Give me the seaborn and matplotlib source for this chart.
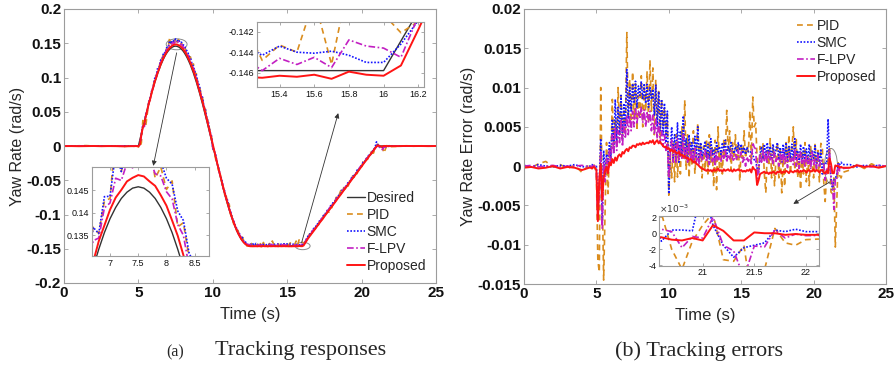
import numpy as np
import matplotlib
matplotlib.use("Agg")
import matplotlib.pyplot as plt
from matplotlib.patches import Ellipse
from matplotlib.lines import Line2D
import seaborn as sns

# ---------------- time grid (s) ----------------
time_pre = [0.0, 0.5, 1.0, 1.5, 2.0, 2.5, 3.0, 3.5, 4.0, 4.5]
time_fine = np.round(np.arange(4.6, 22.05, 0.1), 1)          # 4.6 ... 22.0 (175 samples)
time_post = [22.5, 23.0, 23.5, 24.0, 24.5, 25.0]

# ---------------- desired yaw rate (rad/s) ----------------
desired_pre = [0.0] * 10
desired_rise_fall = [0.0, 0.0, 0.0, 0.0,
    0.0, 0.0092, 0.0183, 0.0273, 0.0363, 0.0451, 0.0537, 0.0621, 0.0702, 0.0781,
    0.0857, 0.0929, 0.0998, 0.1063, 0.1123, 0.1180, 0.1231, 0.1278, 0.1319, 0.1356,
    0.1387, 0.1412, 0.1432, 0.1446, 0.1455, 0.1458, 0.1455, 0.1446, 0.1432, 0.1412,
    0.1387, 0.1356, 0.1319, 0.1278, 0.1231, 0.1180, 0.1123, 0.1063, 0.0998, 0.0929,
    0.0857, 0.0781, 0.0702, 0.0621, 0.0537, 0.0451, 0.0363, 0.0273, 0.0183, 0.0092,
    0.0, -0.0092, -0.0183, -0.0273, -0.0363, -0.0451, -0.0537, -0.0621, -0.0702, -0.0781,
    -0.0857, -0.0929, -0.0998, -0.1063, -0.1123, -0.1180, -0.1231, -0.1278, -0.1319, -0.1356,
    -0.1387, -0.1412, -0.1432, -0.1446, -0.1455, -0.1458]
desired_flat = [-0.1458] * 34
desired_ramp = [-0.1458, -0.1429, -0.1400, -0.1371, -0.1341, -0.1312, -0.1283, -0.1254, -0.1225, -0.1196,
    -0.1166, -0.1137, -0.1108, -0.1079, -0.1050, -0.1021, -0.0991, -0.0962, -0.0933, -0.0904,
    -0.0875, -0.0846, -0.0816, -0.0787, -0.0758, -0.0729, -0.0700, -0.0671, -0.0641, -0.0612,
    -0.0583, -0.0554, -0.0525, -0.0496, -0.0466, -0.0437, -0.0408, -0.0379, -0.0350, -0.0321,
    -0.0292, -0.0262, -0.0233, -0.0204, -0.0175, -0.0146, -0.0117, -0.0087, -0.0058, -0.0029, 0.0]
desired_end = [0.0] * 10
desired_post = [0.0] * 6

# ---------------- tracking errors (x1e-3 rad/s) ----------------
err_pid_pre = [0.1, -0.2, 0.3, 0.6, -0.1, 0.2, -0.3, 0.1, -0.8, 0.2]
err_pid_fine = [
    0.2, -0.3, 0.4, -0.2, -1.0, -12.0, -13.5, 10.0, -3.0, -14.5,
    -6.0, 3.0, -3.5, 2.0, 0.5, 8.5, 2.5, 6.0, 3.0, 10.0,
    4.0, 9.0, 3.5, 7.0, 4.5, 17.0, 6.0, 11.0, 5.0, 12.0,
    6.0, 10.5, 4.5, 9.0, 6.5, 11.5, 5.0, 10.0, 7.0, 12.0,
    5.5, 13.5, 7.0, 12.5, 4.0, 11.0, 6.0, 9.5, 3.5, 8.5,
    5.0, 7.5, 4.0, 6.5, -3.7, 1.0, -1.5, 3.0, -2.0, 4.0,
    -1.4, 2.5, -1.0, 5.0, 1.0, 8.4, -0.5, 4.0, -1.5, 3.0,
    0.0, 4.5, -1.0, 2.0, 5.5, 0.5, 3.0, -1.5, 2.5, -0.5,
    3.5, -1.0, 4.0, 0.5, 2.5, -2.6, 3.3, -3.0, 5.0, -0.5,
    2.0, -1.0, 3.5, 1.0, 7.1, 2.0, 4.5, -0.5, 3.0, 1.0,
    4.0, 0.5, 3.0, -1.9, 2.5, 1.0, 4.5, 1.0, 2.5, 1.8,
    7.0, 0.6, 8.8, 5.0, 5.5, 0.8, -1.0, 2.5, 0.5, 3.0,
    -1.0, -3.4, 2.0, 0.0, 3.5, -1.5, 2.5, -2.5, 1.0, 3.0,
    -1.5, 2.0, -3.4, 1.0, -2.6, 3.0, 0.5, 4.0, -1.0, 2.0,
    5.0, -0.5, 3.5, -1.5, 1.5, -3.0, 2.0, -1.0, 3.0, -2.0,
    1.5, -2.5, 2.5, 0.0, -1.5, 3.0, -0.5, 2.0, -2.0, 2.9,
    2.5, -2.0, -4.5, -1.0, 1.0, 2.5, -3.3, -3.5, -1.5, -10.3,
    -4.5, 0.6, -1.2, -1.5, -0.8]
err_pid_post = [-0.5, 0.2, -0.3, 0.3, -0.1, 0.0]

err_smc_pre = [0.1, -0.1, 0.2, 0.0, -0.1, 0.1, 0.0, 0.2, -0.1, 0.0]
err_smc_fine = [
    0.0, 0.2, -0.1, 0.1, 0.0, -6.0, -2.0, 3.5, -7.5, 2.0,
    -1.0, 1.5, 0.5, 3.0, 1.0, 6.0, 2.0, 8.5, 3.0, 7.5,
    4.0, 9.0, 3.5, 8.0, 5.0, 12.3, 6.0, 10.0, 7.0, 10.5,
    8.0, 10.8, 7.5, 10.2, 9.0, 10.8, 8.5, 10.5, 8.0, 10.4,
    7.5, 10.0, 8.5, 9.8, 6.5, 10.3, 5.0, 9.5, 4.5, 8.5,
    4.0, 8.0, 3.0, 7.0, -3.5, 2.0, 5.0, 1.0, 4.0, 0.5,
    5.5, 0.5, 4.5, 1.0, 6.4, 1.5, 3.5, 0.8, 4.0, 1.5,
    3.0, 0.5, 3.8, 1.0, 5.0, 0.5, 3.0, 1.2, 2.0, 3.2,
    1.0, 2.8, 0.8, 3.5, 1.5, 2.2, 0.6, 3.0, 1.8, 2.5,
    1.5, 3.0, 2.0, 3.3, 1.2, 2.6, 1.8, 3.0, 2.2, 1.6,
    2.5, 1.8, 3.0, 2.0, 2.8, 1.6, 2.4, 1.5, 2.4, 1.8,
    1.7, 1.9, 1.5, 0.8, 0.8, -0.3, -0.9, 1.5, 2.5, 1.0,
    2.8, 1.2, 3.0, 1.5, 2.5, 0.8, 2.8, 1.2, 2.2, 3.0,
    1.0, 2.4, 0.5, 2.8, 1.2, 3.0, 0.5, 2.5, 1.0, 2.8,
    0.8, 3.5, 1.0, 2.0, 0.5, 2.8, 0.3, 2.5, 0.8, 2.2,
    0.5, 2.8, 0.2, 2.0, 1.0, 2.6, 0.0, 1.8, 0.5, 2.2,
    -1.0, 0.4, 0.4, 0.3, 6.0, 1.0, -1.5, -3.0, -1.8, -1.5,
    -1.2, 0.4, 0.2, 0.5, 0.2]
err_smc_post = [0.2, -0.1, 0.1, 0.0, 0.1, 0.0]

err_flpv_pre = [0.0, 0.1, -0.1, 0.0, 0.1, -0.1, 0.0, 0.0, 0.1, -0.1]
err_flpv_fine = [
    0.0, -0.1, 0.1, 0.0, -0.3, -7.0, -3.0, 2.0, -8.0, 0.5,
    -2.0, 1.0, -0.5, 2.0, 0.5, 4.0, 1.5, 5.0, 2.0, 4.5,
    3.0, 6.0, 2.5, 5.5, 3.5, 6.5, 4.0, 6.5, 4.5, 7.0,
    5.0, 7.5, 5.5, 7.0, 6.0, 7.5, 5.5, 7.2, 5.0, 6.8,
    5.5, 7.0, 4.5, 6.5, 4.0, 6.0, 3.5, 5.5, 3.0, 4.5,
    2.5, 4.0, 2.0, 3.0, -1.5, 1.5, 3.5, 0.5, 2.8, 0.5,
    3.5, 0.8, 2.5, 1.0, 4.0, 0.8, 2.5, 0.5, 3.0, 0.8,
    2.0, 0.3, 2.5, 0.5, 1.5, 0.2, 2.0, 0.8, 1.2, 2.0,
    0.5, 1.5, 0.2, 2.0, 0.6, 1.5, 0.0, 1.8, 0.8, 1.2,
    0.5, 1.8, 1.0, 2.2, 0.5, 1.5, 0.8, 2.0, 1.0, 0.6,
    1.5, 0.8, 2.0, 1.0, 1.8, 0.5, 1.2, 0.0, 1.2, 0.6,
    1.3, 0.3, 3.0, 2.4, 2.2, -1.6, -0.5, 1.5, 0.5, 2.0,
    0.5, 1.8, 0.3, 2.0, 0.8, 1.5, 0.2, 1.8, 0.6, 1.2,
    0.0, 1.5, 0.4, 2.0, 0.2, 1.2, -0.2, 1.6, 0.5, 1.0,
    0.2, 2.2, 0.0, 1.5, -0.3, 1.8, 0.4, 1.2, -0.2, 1.5,
    0.3, 1.2, -0.4, 1.8, 0.2, 1.0, -0.3, 1.4, 0.0, 0.8,
    0.5, 0.2, -1.8, -0.4, -0.6, 2.0, -1.5, -2.2, -5.5, -1.6,
    -1.7, 0.4, -0.6, -0.1, -0.3]
err_flpv_post = [-0.2, 0.1, 0.0, -0.1, 0.1, 0.0]

err_prop_pre = [-0.2, -0.1, -0.3, -0.2, 0.0, -0.3, -0.1, -0.2, -0.5, -0.2]
err_prop_fine = [
    -0.2, -0.3, -0.1, -0.2, -0.5, -7.0, -1.5, 0.3, -4.3, -1.5,
    -0.6, -0.1, -0.9, 0.5, 0.1, 0.9, 0.4, 1.1, 0.7, 1.3,
    1.5, 1.2, 1.8, 1.6, 2.0, 2.2, 1.9, 2.4, 2.3, 2.6,
    2.6, 2.4, 2.8, 2.7, 2.9, 2.7, 3.0, 2.8, 2.9, 3.0,
    2.9, 3.2, 3.0, 3.3, 2.8, 3.1, 3.3, 2.9, 3.1, 2.8,
    2.6, 2.4, 2.5, 2.2, 2.3, 1.9, 2.1, 1.8, 2.0, 1.7,
    1.6, 1.8, 1.4, 1.5, 1.2, 1.3, 1.0, 1.1, 0.8, 0.9,
    0.7, 0.5, 0.6, 0.3, 0.2, 0.0, -0.2, -0.3, -0.4, -0.5,
    -0.6, -0.4, -0.6, -0.5, -0.7, -0.4, -0.6, -0.5, -0.3, -0.6,
    -0.5, -0.7, -0.4, -0.6, -0.5, -0.4, -0.6, -0.5, -0.7, -0.4,
    -0.6, -0.5, -0.4, -0.6, -0.5, -0.7, -0.6, -0.7, -0.5, -0.6,
    -0.4, -0.8, -0.1, -0.4, -0.5, -2.4, -1.8, -1.0, -0.9, -0.8,
    -0.7, -0.9, -0.8, -1.0, -0.8, -0.9, -0.7, -0.8, -1.0, -0.7,
    -0.8, -0.6, -0.9, -0.7, -0.8, -0.6, -0.7, -0.9, -0.6, -0.7,
    -0.8, -0.6, -0.7, -0.5, -0.8, -0.6, -0.7, -0.5, -0.6, -0.8,
    -0.6, -0.5, -0.7, -0.6, -0.4, -0.7, -0.5, -0.6, -0.8, -0.5,
    -0.5, -0.8, -0.9, -0.6, -0.9, 1.0, 0.3, -0.9, -0.9, 0.1,
    0.0, 0.0, -0.2, -0.1, -0.2]
err_prop_post = [-0.2, 0.1, -0.1, 0.0, -0.2, 0.0]

controllers = ["PID", "SMC", "F-LPV", "Proposed"]
caption_a = ["(a)", "Tracking responses"]
caption_b = "(b) Tracking errors"

# ---------------- assemble ----------------
t = np.concatenate([time_pre, time_fine, time_post])
desired = np.array(desired_pre + desired_rise_fall + desired_flat + desired_ramp + desired_end + desired_post)
errs = {
    "PID": np.array(err_pid_pre + err_pid_fine + err_pid_post),
    "SMC": np.array(err_smc_pre + err_smc_fine + err_smc_post),
    "F-LPV": np.array(err_flpv_pre + err_flpv_fine + err_flpv_post),
    "Proposed": np.array(err_prop_pre + err_prop_fine + err_prop_post),
}
resp = {k: desired + v * 1e-3 for k, v in errs.items()}

sns.set_theme(style="white")
plt.rcParams["font.family"] = ["Liberation Sans", "DejaVu Sans"]
plt.rcParams["axes.unicode_minus"] = False

styles = {
    "Desired": dict(color="#333333", linestyle="-", linewidth=1.0),
    "PID": dict(color="#DA8D1E", linestyle=(0, (3.5, 2.5)), linewidth=1.2),
    "SMC": dict(color="#1414FF", linestyle=(0, (1, 1)), linewidth=1.2),
    "F-LPV": dict(color="#C21FC2", linestyle=(0, (4, 1.5, 1, 1.5)), linewidth=1.2),
    "Proposed": dict(color="#FF1414", linestyle="-", linewidth=1.4),
}
SPINE = "#9c9c9c"


def style_axes(ax, labelsize=10, bold=True, length=3):
    for s in ax.spines.values():
        s.set_color(SPINE)
        s.set_linewidth(0.8)
        s.set_visible(True)
    ax.tick_params(direction="in", length=length, width=0.6, color=SPINE,
                   top=True, right=True, bottom=True, left=True,
                   labelsize=labelsize, labelcolor="#111111", pad=2)
    if bold:
        for lbl in ax.get_xticklabels() + ax.get_yticklabels():
            lbl.set_fontweight("bold")
    ax.grid(False)


def draw(ax, series):
    for name, y in series:
        sns.lineplot(x=t, y=y, ax=ax, estimator=None, sort=False, legend=False, **styles[name])


fig = plt.figure(figsize=(8.96, 3.68), dpi=100)
axL = fig.add_axes([64 / 896, 1 - 283 / 368, 372 / 896, 274 / 368])
axR = fig.add_axes([524 / 896, 1 - 284 / 368, 362 / 896, 275 / 368])

# ---------- left panel: responses ----------
left_series = [("Desired", desired)] + [(c, resp[c]) for c in controllers]
draw(axL, left_series)
axL.set_xlim(0, 25)
axL.set_ylim(-0.2, 0.2)
axL.set_xticks([0, 5, 10, 15, 20, 25])
axL.set_xticklabels(["0", "5", "10", "15", "20", "25"])
axL.set_yticks([-0.2, -0.15, -0.1, -0.05, 0, 0.05, 0.1, 0.15, 0.2])
axL.set_yticklabels(["-0.2", "-0.15", "-0.1", "-0.05", "0", "0.05", "0.1", "0.15", "0.2"])
axL.set_xlabel("Time (s)", fontsize=12, labelpad=5)
axL.set_ylabel("Yaw Rate (rad/s)", fontsize=11.5, labelpad=1)
style_axes(axL, labelsize=11)

handles = [Line2D([], [], **styles[n]) for n in ["Desired"] + controllers]
axL.legend(handles, ["Desired"] + controllers, loc="lower right", frameon=False,
           fontsize=10, handlelength=1.3, handletextpad=0.15, labelspacing=0.22,
           borderaxespad=0.3, bbox_to_anchor=(1.0, 0.0))

axL.add_patch(Ellipse((7.57, 0.1485), 1.4, 0.016, fill=False, ec="#8a8a8a", lw=0.7))
axL.add_patch(Ellipse((16.04, -0.146), 1.0, 0.0107, fill=False, ec="#8a8a8a", lw=0.7))
arrow_kw = dict(arrowstyle="-|>", color="#333333", lw=0.6, mutation_scale=7, shrinkA=0, shrinkB=0)
axL.annotate("", xy=(6.0, -0.029), xytext=(7.57, 0.136), arrowprops=arrow_kw)
axL.annotate("", xy=(18.43, 0.048), xytext=(15.97, -0.141), arrowprops=arrow_kw)

# inset: peak
insA = fig.add_axes([91.7 / 896, 1 - 256 / 368, 117.3 / 896, 89 / 368])
draw(insA, left_series)
insA.set_xlim(6.675, 8.754)
insA.set_ylim(0.1304, 0.1502)
insA.set_xticks([7, 7.5, 8, 8.5])
insA.set_xticklabels(["7", "7.5", "8", "8.5"])
insA.set_yticks([0.135, 0.14, 0.145])
insA.set_yticklabels(["0.135", "0.14", "0.145"])
insA.set_facecolor("white")
style_axes(insA, labelsize=6.5, bold=False, length=2)

# inset: plateau
insB = fig.add_axes([257 / 896, 1 - 87 / 368, 167 / 896, 65 / 368])
draw(insB, left_series)
insB.set_xlim(15.27, 16.233)
insB.set_ylim(-0.1474, -0.14105)
insB.set_xticks([15.4, 15.6, 15.8, 16, 16.2])
insB.set_xticklabels(["15.4", "15.6", "15.8", "16", "16.2"])
insB.set_yticks([-0.146, -0.144, -0.142])
insB.set_yticklabels(["-0.146", "-0.144", "-0.142"])
insB.set_facecolor("white")
style_axes(insB, labelsize=6.5, bold=False, length=2)

# ---------- right panel: errors ----------
right_series = [(c, errs[c] * 1e-3) for c in controllers]
draw(axR, right_series)
axR.set_xlim(0, 25)
axR.set_ylim(-0.015, 0.02)
axR.set_xticks([0, 5, 10, 15, 20, 25])
axR.set_xticklabels(["0", "5", "10", "15", "20", "25"])
axR.set_yticks([-0.015, -0.01, -0.005, 0, 0.005, 0.01, 0.015, 0.02])
axR.set_yticklabels(["-0.015", "-0.01", "-0.005", "0", "0.005", "0.01", "0.015", "0.02"])
axR.set_xlabel("Time (s)", fontsize=12, labelpad=5)
axR.set_ylabel("Yaw Rate Error (rad/s)", fontsize=11.5, labelpad=1)
style_axes(axR, labelsize=11)

handlesR = [Line2D([], [], **styles[n]) for n in controllers]
axR.legend(handlesR, controllers, loc="upper right", frameon=False, fontsize=10,
           handlelength=1.3, handletextpad=0.15, labelspacing=0.22, borderaxespad=0.3)

axR.add_patch(Ellipse((21.2, 0.0), 0.9, 0.0045, fill=False, ec="#8a8a8a", lw=0.7))
axR.annotate("", xy=(18.6, -0.0048), xytext=(21.13, -0.0020), arrowprops=arrow_kw)

insC = fig.add_axes([659.3 / 896, 1 - 265.7 / 368, 160 / 896, 49.7 / 368])
draw(insC, [(c, errs[c]) for c in controllers])
insC.set_xlim(20.58, 22.13)
insC.set_ylim(-4.05, 2.15)
insC.set_xticks([21, 21.5, 22])
insC.set_xticklabels(["21", "21.5", "22"])
insC.set_yticks([-4, -2, 0, 2])
insC.set_yticklabels(["-4", "-2", "0", "2"])
insC.set_facecolor("white")
style_axes(insC, labelsize=6.5, bold=False, length=2)
insC.text(0.0, 1.02, r"$\times10^{-3}$", transform=insC.transAxes, fontsize=6.5,
          color="#333333", ha="left", va="bottom")

# ---------- captions ----------
serif = ["Liberation Serif", "DejaVu Serif"]
fig.text(175 / 896, 1 - 352 / 368, caption_a[0], fontsize=11.5, family=serif, ha="center", va="center")
fig.text(301 / 896, 1 - 351 / 368, caption_a[1], fontsize=16, family=serif, ha="center", va="center")
fig.text(699 / 896, 1 - 351 / 368, caption_b, fontsize=16, family=serif, ha="center", va="center")

fig.savefig("out.png", dpi=100)
